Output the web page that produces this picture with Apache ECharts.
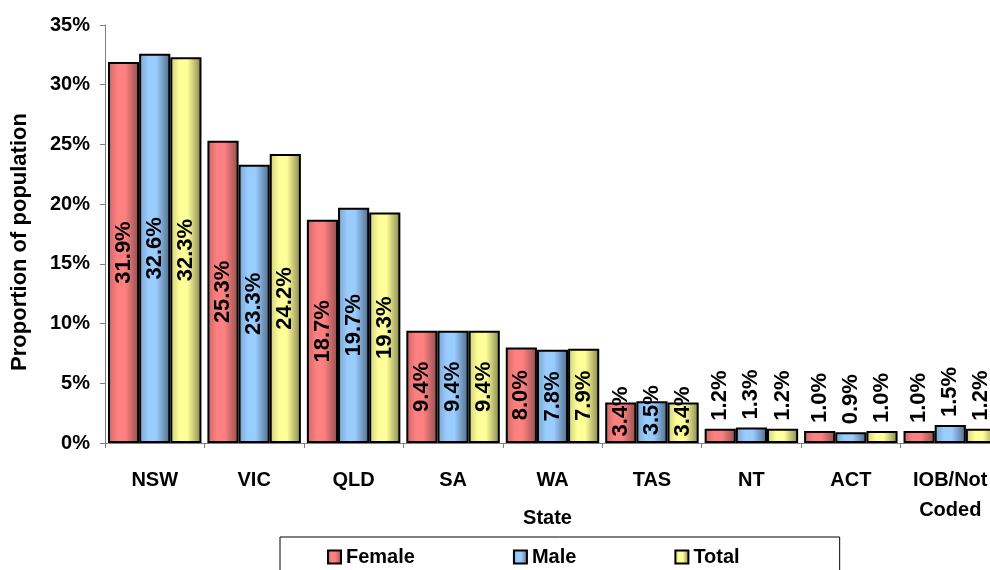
<!DOCTYPE html>
<html>
<head>
<meta charset="utf-8">
<script src="https://cdn.jsdelivr.net/npm/echarts@6/dist/echarts.min.js"></script>
<style>
  html, body { margin: 0; padding: 0; background: #fff; }
  #chart { width: 990px; height: 570px; }
</style>
</head>
<body>
<div id="chart"></div>
<script>
const states = ['NSW', 'VIC', 'QLD', 'SA', 'WA', 'TAS', 'NT', 'ACT', 'IOB/Not\nCoded']
const female = [31.9, 25.3, 18.7, 9.4, 8.0, 3.4, 1.2, 1.0, 1.0]
const male = [32.6, 23.3, 19.7, 9.4, 7.8, 3.5, 1.3, 0.9, 1.5]
const total = [32.3, 24.2, 19.3, 9.4, 7.9, 3.4, 1.2, 1.0, 1.2]
const yTicks = [0, 35, 5] // min, max, step

const FONT = 'Liberation Sans, Arial, sans-serif'

function fill(edge, light, dark) {
  return new echarts.graphic.LinearGradient(0, 0, 1, 0, [
    { offset: 0, color: edge },
    { offset: 0.3, color: light },
    { offset: 0.55, color: light },
    { offset: 1, color: dark },
  ])
}

// label sits in the middle of tall bars, straddles the top of mid bars, floats above small ones
function items(values) {
  return values.map(v => {
    let label
    if (v < 2) {
      label = { position: 'top', align: 'left', verticalAlign: 'middle', distance: 8 }
    } else if (v < 5) {
      label = { position: ['50%', 9], align: 'center', verticalAlign: 'middle' }
    } else {
      label = { position: 'inside' }
    }
    return { value: v, label }
  })
}

function series(name, values, colors) {
  return {
    name,
    type: 'bar',
    data: items(values),
    barGap: '0%',
    barCategoryGap: '6%',
    itemStyle: {
      color: fill(colors[0], colors[1], colors[2]),
      borderColor: '#000',
      borderWidth: 2,
    },
    label: {
      show: true,
      rotate: 90,
      formatter: p => p.value.toFixed(1) + '%',
      color: '#000',
      fontFamily: FONT,
      fontWeight: 'bold',
      fontSize: 22,
    },
  }
}

let chart = echarts.init(document.getElementById('chart'), null, { renderer: 'canvas' })

chart.setOption({
  animation: false,
  backgroundColor: '#fff',
  grid: {
    left: 105,
    right: -10,
    top: 25,
    bottom: 127,
    containLabel: false,
    outerBoundsMode: 'none',
  },
  legend: {
    left: 280,
    top: 537,
    padding: [10, 100, 12, 47],
    itemGap: 98,
    itemWidth: 13,
    itemHeight: 13,
    icon: 'rect',
    borderColor: '#000',
    borderWidth: 1,
    textStyle: {
      fontFamily: FONT,
      fontWeight: 'bold',
      fontSize: 20,
      color: '#000',
    },
    data: ['Female', 'Male', 'Total'],
  },
  xAxis: {
    type: 'category',
    data: states,
    name: 'State',
    nameLocation: 'middle',
    nameGap: 65,
    nameMoveOverlap: false,
    nameTextStyle: {
      fontFamily: FONT,
      fontWeight: 'bold',
      fontSize: 20,
      color: '#000',
      padding: [0, 10, 0, 0],
    },
    axisLine: { lineStyle: { color: '#808080', width: 1 } },
    axisTick: { show: true, length: 5, lineStyle: { color: '#808080' } },
    axisLabel: {
      margin: 22,
      fontFamily: FONT,
      fontWeight: 'bold',
      fontSize: 20,
      lineHeight: 30,
      color: '#000',
      interval: 0,
    },
  },
  yAxis: {
    type: 'value',
    min: yTicks[0],
    max: yTicks[1],
    interval: yTicks[2],
    name: 'Proportion of population',
    nameLocation: 'middle',
    nameGap: 74,
    nameMoveOverlap: false,
    nameTextStyle: {
      fontFamily: FONT,
      fontWeight: 'bold',
      fontSize: 22,
      color: '#000',
      padding: [0, 16, 0, 0],
    },
    axisLine: { show: true, lineStyle: { color: '#808080', width: 1 } },
    axisTick: { show: true, length: 5, lineStyle: { color: '#808080' } },
    splitLine: { show: false },
    axisLabel: {
      formatter: '{value}%',
      margin: 15,
      fontFamily: FONT,
      fontWeight: 'bold',
      fontSize: 20,
      color: '#000',
    },
  },
  series: [
    series('Female', female, ['#c86666', '#ff8080', '#8f4f4f']),
    series('Male', male, ['#7aa3cc', '#99ccff', '#4f6a85']),
    series('Total', total, ['#cccc7a', '#ffff99', '#85854f']),
  ],
})
</script>
</body>
</html>
